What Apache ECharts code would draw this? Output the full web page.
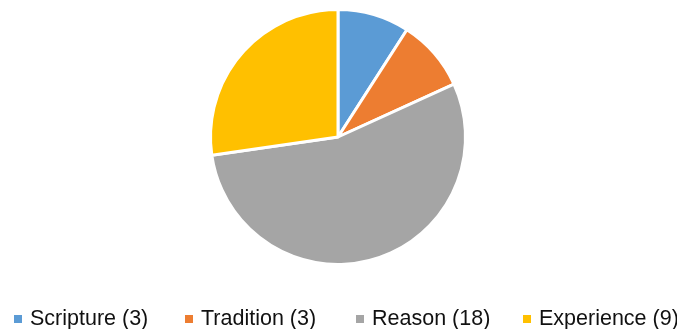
<!DOCTYPE html>
<html>
<head>
<meta charset="utf-8">
<script src="https://cdn.jsdelivr.net/npm/echarts@6/dist/echarts.min.js"></script>
<style>
  html, body { margin: 0; padding: 0; background: #fff; }
  #chart { width: 677px; height: 329px; }
</style>
</head>
<body>
<div id="chart"></div>
<script>
// Sources cited, with counts
const categories = ['Scripture', 'Tradition', 'Reason', 'Experience'];
const counts = [3, 3, 18, 9];
const colors = ['#5B9BD5', '#ED7D31', '#A5A5A5', '#FFC000'];
// left edge of each legend entry
const legendLefts = [12, 183, 354, 521];

const labelOf = (name) => name + ' (' + counts[categories.indexOf(name)] + ')';

const chart = echarts.init(document.getElementById('chart'), null, { renderer: 'canvas' });

const legends = categories.map((name, i) => ({
  data: [name],
  left: legendLefts[i],
  top: 308,
  orient: 'horizontal',
  padding: 0,
  itemWidth: 10,
  itemHeight: 10,
  icon: 'rect',
  selectedMode: false,
  formatter: labelOf,
  textStyle: {
    fontFamily: 'Liberation Sans',
    fontSize: 21.5,
    color: '#111',
    padding: [0, 0, 0, 2]
  }
}));

chart.setOption({
  animation: false,
  color: colors,
  legend: legends,
  series: [{
    type: 'pie',
    center: [338, 137],
    radius: 127.5,
    startAngle: 90,
    clockwise: true,
    label: { show: false },
    labelLine: { show: false },
    emphasis: { disabled: true },
    itemStyle: { borderColor: '#fff', borderWidth: 3 },
    data: categories.map((name, i) => ({ name: name, value: counts[i] }))
  }]
});
</script>
</body>
</html>
